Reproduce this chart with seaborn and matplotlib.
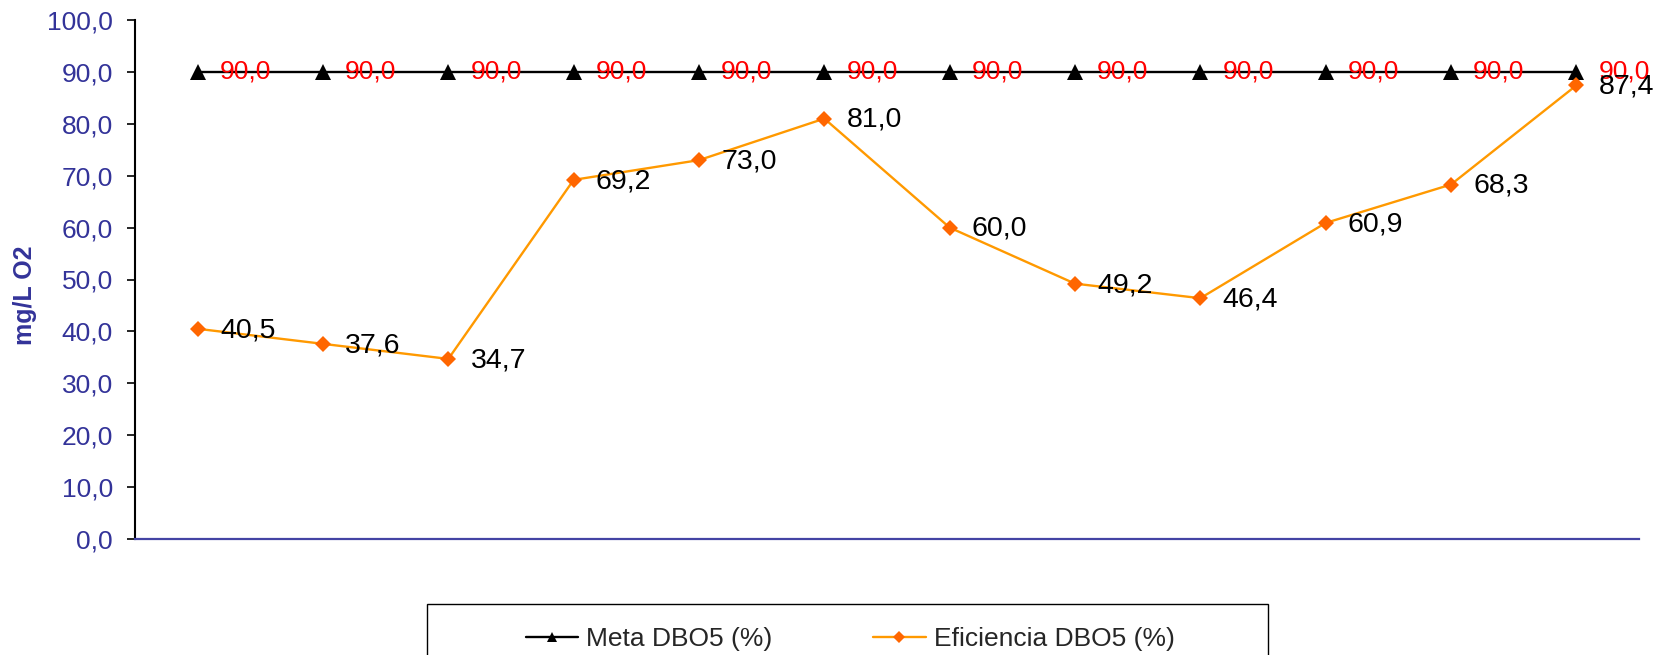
import numpy as np
import pandas as pd
import matplotlib
matplotlib.use("Agg")
import matplotlib.pyplot as plt
from matplotlib.patches import Rectangle
import seaborn as sns

# ---- data ----
categories = list(range(1, 13))
meta_dbo5 = [90.0] * 12
eficiencia_dbo5 = [40.5, 37.6, 34.7, 69.2, 73.0, 81.0, 60.0, 49.2, 46.4, 60.9, 68.3, 87.4]
series_names = ["Meta DBO5 (%)", "Eficiencia DBO5 (%)"]
y_label = "mg/L O2"
y_ticks = [0, 10, 20, 30, 40, 50, 60, 70, 80, 90, 100]

sns.set_theme(style="white")
plt.rcParams['font.family'] = ['Liberation Sans', 'DejaVu Sans']

W, H = 1668, 655
fig = plt.figure(figsize=(W / 100, H / 100), dpi=100)
ax = fig.add_axes([135 / W, 1 - 539 / H, (1639 - 135) / W, (539 - 20) / H])

df = pd.DataFrame({"cat": np.arange(len(categories)),
                   "meta": meta_dbo5, "ef": eficiencia_dbo5})

sns.lineplot(data=df, x="cat", y="meta", ax=ax, color="black", linewidth=1.7,
             marker="^", markersize=11, markeredgewidth=0, markerfacecolor="black",
             label=series_names[0], legend=False)
sns.lineplot(data=df, x="cat", y="ef", ax=ax, color="#FF9900", linewidth=1.7,
             marker="D", markersize=8.5, markeredgewidth=0, markerfacecolor="#FF6600",
             label=series_names[1], legend=False)

# data labels
for i, v in enumerate(meta_dbo5):
    ax.annotate(f"{v:.1f}".replace(".", ","), (i, v), xytext=(16, 0),
                textcoords="offset points", ha="left", va="center",
                color="#FF0000", fontsize=19, clip_on=False)
for i, v in enumerate(eficiencia_dbo5):
    ax.annotate(f"{v:.1f}".replace(".", ","), (i, v), xytext=(16, -1),
                textcoords="offset points", ha="left", va="center",
                color="black", fontsize=20.5, clip_on=False)

ax.set_xlim(-0.5, len(categories) - 0.5)
ax.set_ylim(0, 100)
ax.set_yticks(y_ticks)
ax.set_yticklabels([f"{t:.1f}".replace(".", ",") for t in y_ticks])
ax.set_xticks([])
ax.set_xlabel("")
ax.set_ylabel("")
ax.tick_params(axis="y", which="major", left=True, length=6, width=1.2,
               color="black", pad=10, labelsize=19, labelcolor="#333399")

for s in ["top", "right"]:
    ax.spines[s].set_visible(False)
ax.spines["left"].set_color("black")
ax.spines["left"].set_linewidth(1.5)
ax.spines["bottom"].set_color("#4444A4")
ax.spines["bottom"].set_linewidth(1.6)
ax.grid(False)
ax.set_facecolor("white")

fig.text(25 / W, 1 - 295 / H, y_label, rotation=90, ha="center", va="center",
         fontsize=18, fontweight="bold", color="#333399")

# legend
handles, labels = ax.get_legend_handles_labels()
leg = fig.legend(handles, labels, loc="center", bbox_to_anchor=(850 / W, 1 - 639 / H),
                 ncol=2, frameon=False, fontsize=19, handlelength=2.0,
                 handletextpad=0.3, columnspacing=3.8, markerscale=0.7)
fig.patches.append(Rectangle((427 / W, 1 - 672 / H), (1268 - 427) / W, (672 - 604) / H,
                             transform=fig.transFigure, fill=False,
                             edgecolor="black", linewidth=1.0))

fig.savefig("out.png", dpi=100, facecolor="white")
